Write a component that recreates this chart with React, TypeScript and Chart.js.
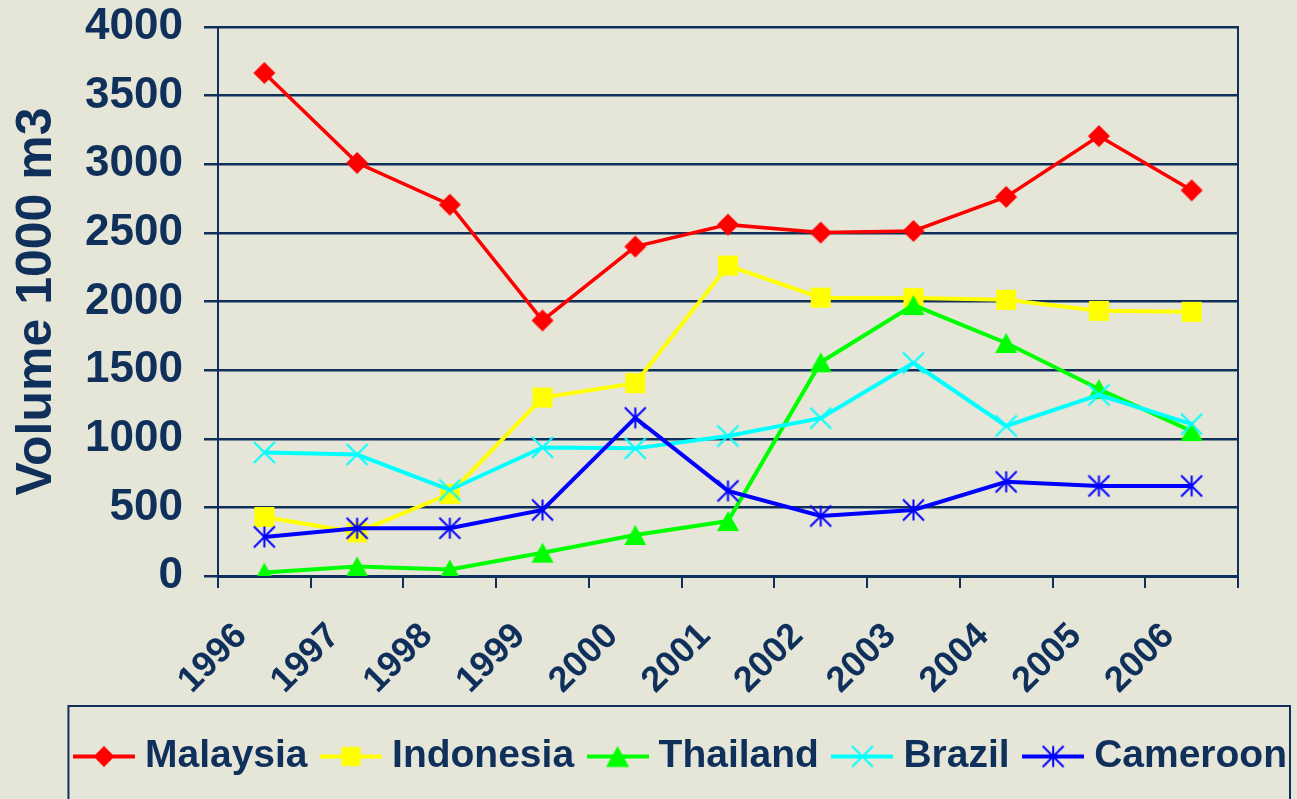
import React, { useEffect, useRef } from "react";
import { Chart, registerables } from "chart.js";

Chart.register(...registerables);

// ---------- data ----------
const years = ["1996", "1997", "1998", "1999", "2000", "2001", "2002", "2003", "2004", "2005", "2006"];
const malaysia = [3665, 3010, 2705, 1862, 2400, 2560, 2502, 2514, 2762, 3205, 2810];
const indonesia = [430, 318, 598, 1300, 1405, 2262, 2028, 2025, 2012, 1932, 1925];
const thailand = [25, 70, 48, 170, 299, 400, 1557, 1974, 1698, 1362, 1056];
const brazil = [900, 885, 627, 937, 930, 1020, 1150, 1552, 1093, 1319, 1107];
const cameroon = [285, 348, 348, 481, 1152, 620, 437, 481, 686, 656, 656];

const seriesNames = ["Malaysia", "Indonesia", "Thailand", "Brazil", "Cameroon"];
const seriesValues = [malaysia, indonesia, thailand, brazil, cameroon];
const seriesColors = ["#FF0000", "#FFFF00", "#00FF00", "#00FFFF", "#0000FF"];
const seriesMarkers = ["diamond", "square", "triangle", "x", "star"];

const yMin = 0;
const yMax = 4000;
const yStep = 500;
const yTitle = "Volume 1000 m3";

// ---------- style ----------
const NAVY = "#10305C";
const BG = "#E6E6D8";
const FONT = "'Liberation Sans', Arial, Helvetica, sans-serif";

function drawMarker(ctx: CanvasRenderingContext2D, kind: string, cx: number, cy: number, s: number, color: string) {
  ctx.fillStyle = color;
  ctx.strokeStyle = color;
  ctx.beginPath();
  switch (kind) {
    case "diamond":
      ctx.moveTo(cx, cy - s);
      ctx.lineTo(cx + s, cy);
      ctx.lineTo(cx, cy + s);
      ctx.lineTo(cx - s, cy);
      ctx.closePath();
      ctx.fill();
      break;
    case "square":
      ctx.rect(cx - s, cy - s, 2 * s, 2 * s);
      ctx.fill();
      break;
    case "triangle":
      ctx.moveTo(cx, cy - s);
      ctx.lineTo(cx + s * 1.1, cy + s);
      ctx.lineTo(cx - s * 1.1, cy + s);
      ctx.closePath();
      ctx.fill();
      break;
    case "x":
      ctx.lineWidth = 2;
      ctx.moveTo(cx - s, cy - s);
      ctx.lineTo(cx + s, cy + s);
      ctx.moveTo(cx + s, cy - s);
      ctx.lineTo(cx - s, cy + s);
      ctx.stroke();
      break;
    case "star":
      ctx.lineWidth = 2;
      ctx.moveTo(cx - s, cy - s);
      ctx.lineTo(cx + s, cy + s);
      ctx.moveTo(cx + s, cy - s);
      ctx.lineTo(cx - s, cy + s);
      ctx.moveTo(cx, cy - s);
      ctx.lineTo(cx, cy + s);
      ctx.stroke();
      break;
  }
}

function markerCanvas(kind: string, color: string, s: number) {
  const c = document.createElement("canvas");
  const size = Math.ceil(2 * s + 6);
  c.width = size;
  c.height = size;
  const ctx = c.getContext("2d")!;
  drawMarker(ctx, kind, size / 2, size / 2, s, color);
  return c;
}

function legendCanvas(kind: string, color: string) {
  const c = document.createElement("canvas");
  c.width = 62;
  c.height = 26;
  const ctx = c.getContext("2d")!;
  ctx.strokeStyle = color;
  ctx.lineWidth = 4;
  ctx.beginPath();
  ctx.moveTo(0, 13);
  ctx.lineTo(62, 13);
  ctx.stroke();
  drawMarker(ctx, kind, 31, 13, kind === "square" ? 9.5 : 10.5, color);
  return c;
}

const markerSize: Record<string, number> = { diamond: 11, square: 10, triangle: 10, x: 10.5, star: 10.5 };

export default function App() {
  const ref = useRef<HTMLCanvasElement | null>(null);

  useEffect(() => {
    document.body.style.margin = "0";
    document.body.style.background = BG;
    document.body.style.overflow = "hidden";
    const canvas = ref.current;
    if (!canvas) return;

    const legendImgs = seriesMarkers.map((m, i) => legendCanvas(m, seriesColors[i]));

    const bgPlugin = {
      id: "bgFill",
      beforeDraw(chart: any) {
        const { ctx, width, height } = chart;
        ctx.save();
        ctx.fillStyle = BG;
        ctx.fillRect(0, 0, width, height);
        ctx.restore();
      },
    };

    const legendFrame = {
      id: "legendFrame",
      afterDraw(chart: any) {
        const lg = chart.legend;
        if (!lg || !lg.legendHitBoxes || !lg.legendHitBoxes.length) return;
        const hb = lg.legendHitBoxes;
        const left = hb[0].left - 14;
        const top = lg.top - 9;
        const last = hb[hb.length - 1];
        const right = last.left + last.width + 3;
        const ctx = chart.ctx;
        ctx.save();
        ctx.strokeStyle = NAVY;
        ctx.lineWidth = 2;
        ctx.strokeRect(left, top, right - left, chart.height - top + 20);
        ctx.restore();
      },
    };

    const datasets = seriesNames.map((name, i) => ({
      label: name,
      data: seriesValues[i],
      borderColor: seriesColors[i],
      backgroundColor: seriesColors[i],
      borderWidth: i === 0 ? 3.5 : 4,
      pointStyle: markerCanvas(seriesMarkers[i], seriesColors[i], markerSize[seriesMarkers[i]]),
      pointRadius: 11,
      tension: 0,
      fill: false,
      order: seriesNames.length - i,
    }));

    const chart = new Chart(canvas, {
      type: "line",
      data: { labels: years, datasets },
      options: {
        animation: false,
        responsive: false,
        events: [],
        layout: { padding: { left: 0, right: -12, top: 27, bottom: 13 } },
        plugins: {
          tooltip: { enabled: false },
          legend: {
            position: "bottom",
            align: "end",
            labels: {
              usePointStyle: true,
              pointStyleWidth: 43,
              padding: 22,
              color: NAVY,
              font: { family: FONT, size: 39, weight: "bold" },
              sort: (a: any, b: any) => a.datasetIndex - b.datasetIndex,
              generateLabels: (ch: any) => {
                const items = (Chart as any).defaults.plugins.legend.labels.generateLabels(ch);
                return items.map((it: any) => ({ ...it, pointStyle: legendImgs[it.datasetIndex], fontColor: NAVY }));
              },
            },
          },
        },
        scales: {
          x: {
            type: "category",
            offset: true,
            grid: {
              display: true,
              drawOnChartArea: false,
              drawTicks: true,
              tickLength: 12,
              color: NAVY,
              lineWidth: 2,
              offset: true,
            },
            border: { display: true, color: NAVY, width: 3 },
            ticks: {
              autoSkip: false,
              minRotation: 45,
              maxRotation: 45,
              padding: 27,
              labelOffset: -23,
              color: NAVY,
              font: { family: FONT, size: 36, weight: "bold" },
            },
            afterFit: (s: any) => {
              s.height = 139;
              s.paddingLeft = 0;
              s.paddingRight = 0;
            },
          },
          y: {
            type: "linear",
            position: "left",
            min: yMin,
            max: yMax,
            grid: {
              color: NAVY,
              lineWidth: 2.5,
              drawTicks: true,
              tickLength: 14,
            },
            border: { display: true, color: NAVY, width: 2 },
            ticks: {
              stepSize: yStep,
              padding: 21,
              color: NAVY,
              font: { family: FONT, size: 44, weight: "bold" },
              callback: (v: any) => String(v),
            },
            title: {
              display: true,
              text: yTitle,
              color: NAVY,
              padding: { top: 7, bottom: 0 },
              font: { family: FONT, size: 50, weight: "bold" },
            },
            afterFit: (s: any) => {
              s.width = 218;
              s.paddingTop = 0;
              s.paddingBottom = 0;
            },
          },
          yRight: {
            type: "linear",
            position: "right",
            min: yMin,
            max: yMax,
            grid: { display: false },
            border: { display: true, color: NAVY, width: 2 },
            ticks: { display: false },
            afterFit: (s: any) => {
              s.width = 71;
              s.paddingTop = 0;
              s.paddingBottom = 0;
            },
          },
        },
      } as any,
      plugins: [bgPlugin, legendFrame],
    });

    return () => chart.destroy();
  }, []);

  return (
    <div style={{ width: 1297, height: 799, background: BG }}>
      <canvas ref={ref} width={1297} height={799} style={{ display: "block" }} />
    </div>
  );
}
